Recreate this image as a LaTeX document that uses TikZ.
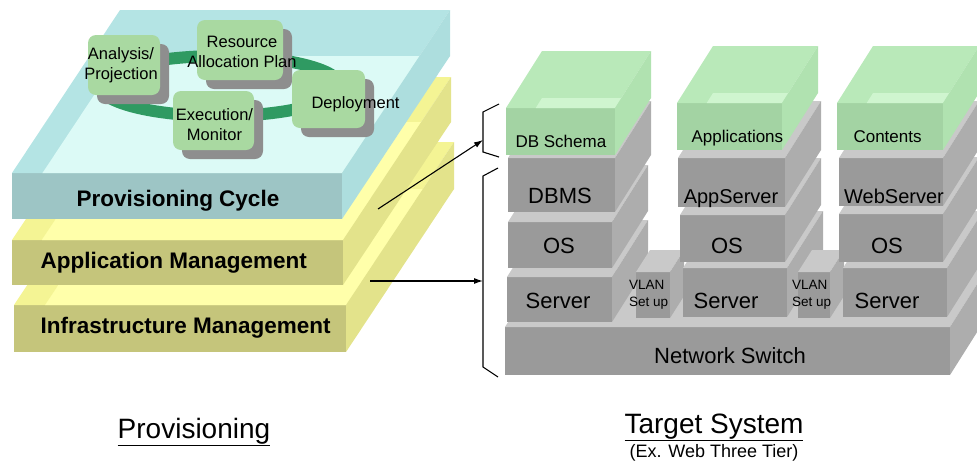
\documentclass[tikz,border=0pt]{standalone}
\usepackage{fontspec}
\setmainfont{Liberation Sans}
\usetikzlibrary{arrows.meta, calc, shadows}
\definecolor{provfront}{HTML}{9DC5C5}
\definecolor{provside}{HTML}{ADDEDE}
\definecolor{provtop}{HTML}{B4E4E4}
\definecolor{provinner}{HTML}{DCFAF6}
\definecolor{mgmtfront}{HTML}{C5C57B}
\definecolor{mgmtside}{HTML}{E3E38B}
\definecolor{mgmttop}{HTML}{F4F494}
\definecolor{mgmtinner}{HTML}{FFFFAA}
\definecolor{tierfront}{HTML}{A3D3A3}
\definecolor{tierside}{HTML}{B0E2B0}
\definecolor{tiertop}{HTML}{B9E9B9}
\definecolor{tierinner}{HTML}{CFF5CF}
\definecolor{hwfront}{HTML}{9A9A9A}
\definecolor{hwside}{HTML}{ADADAD}
\definecolor{hwtop}{HTML}{C9C9C9}
\definecolor{cyclering}{HTML}{2F9A62}
\definecolor{cyclefill}{HTML}{A9D9A1}
\definecolor{cycleshadow}{HTML}{8E8E8E}

% top and side of a block whose front face is a node
\newcommand{\solidprism}[4]{%
  \fill[#4top] (#1.north west) -- ++(#2,-#3) -- ($(#1.north east)+(#2,-#3)$) -- (#1.north east) -- cycle;
  \fill[#4side] (#1.north east) -- ++(#2,-#3) -- ($(#1.south east)+(#2,-#3)$) -- (#1.south east) -- cycle;
}
% same, open at the top (tray)
\newcommand{\openprism}[4]{%
  \coordinate (#1bl) at ($(#1.south west)+(#2,-#3)$);
  \coordinate (#1br) at ($(#1.south east)+(#2,-#3)$);
  \fill[#4top] (#1.north west) -- ++(#2,-#3) -- ($(#1.north east)+(#2,-#3)$) -- (#1.north east) -- cycle;
  \fill[#4inner] (intersection of #1.south west--#1bl and #1.north west--#1.north east) -- (#1.north east) -- (#1br) -- (#1bl) -- cycle;
  \fill[#4side] (#1.north east) -- ++(#2,-#3) -- ($(#1.south east)+(#2,-#3)$) -- (#1.south east) -- cycle;
}

\begin{document}
\begin{tikzpicture}[x=1pt, y=-1pt,
    face/.style 2 args={anchor=north west, inner sep=0pt, outer sep=0pt,
                        minimum width=#1pt, minimum height=#2pt},
    cyclebox/.style 2 args={rounded corners=8pt, fill=cyclefill, inner sep=0pt,
                        minimum width=#1pt, minimum height=#2pt,
                        general shadow={fill=cycleshadow, shadow xshift=9pt, shadow yshift=-9pt}},
    cycletext/.style={align=center, font=\fontsize{16.5}{20}\selectfont},
    layertext/.style={anchor=base west, font=\fontsize{22.5}{26}\selectfont\bfseries},
    tiertext/.style={anchor=base west, font=\fontsize{17}{20}\selectfont},
    hwtext/.style={anchor=base, font=\fontsize{22}{26}\selectfont},
    vlantext/.style={anchor=north west, inner sep=0pt, align=left, font=\fontsize{13.5}{17}\selectfont},
    caption/.style={anchor=base, font=\fontsize{28}{32}\selectfont},
    arrow/.style={-{Latex[length=9pt, width=6pt]}, line width=1.1pt},
    brace/.style={line width=1.1pt},
  ]
  \path[use as bounding box] (0,0) rectangle (977,464);
  \clip (0,0) rectangle (977,464);

  % Provisioning layers
  \node[face={332}{47}, fill=mgmtfront] (infra) at (14,305) {};
  \openprism{infra}{108}{163}{mgmt}
  \node[face={331}{45}, fill=mgmtfront] (appmgmt) at (12,240) {};
  \openprism{appmgmt}{108}{163}{mgmt}
  \node[face={330}{46}, fill=provfront] (cycle) at (12,173) {};
  \openprism{cycle}{108}{163}{prov}

  % Provisioning cycle
  \draw[cyclering, line width=12pt] (220,86) ellipse [x radius=120, y radius=30];
  \node[cyclebox={72}{60}] (analysis) at (124,65) {};
  \node[cyclebox={86}{60}] (resource) at (240,50) {};
  \node[cyclebox={81}{59}] (execution) at (213.5,120.5) {};
  \node[cyclebox={73}{58}] (deploy) at (328.5,99) {};
  \node[cycletext] (analysistext) at ([xshift=-3pt]analysis.center) {Analysis/\\Projection};
  \node[cycletext] (resourcetext) at ([xshift=2pt, yshift=-2pt]resource.center) {Resource\\Allocation Plan};
  \node[cycletext] (executiontext) at ([xshift=1pt, yshift=-4pt]execution.center) {Execution/\\Monitor};
  \node[cycletext, anchor=west] (deploytext) at (308,104) {Deployment};

  \node[layertext, anchor=base] (cycletitle) at (178,206) {Provisioning Cycle};
  \node[layertext] (appmgmttitle) at (37,268) {Application Management};
  \node[layertext] (infratitle) at (37,333) {Infrastructure Management};

  % Target system
  \node[face={445}{48}, fill=hwfront] (switch) at (505,327) {};
  \solidprism{switch}{36}{57}{hw}

  \node[face={105}{45}, fill=hwfront] (serverA) at (507,277) {};
  \solidprism{serverA}{36}{57}{hw}
  \node[face={104}{46}, fill=hwfront] (osA) at (508,222) {};
  \solidprism{osA}{36}{57}{hw}
  \node[face={107}{54}, fill=hwfront] (dbms) at (508,158) {};
  \solidprism{dbms}{36}{57}{hw}
  \node[face={109}{47}, fill=tierfront] (schema) at (506,108) {};
  \openprism{schema}{36}{57}{tier}

  \node[face={34}{46}, fill=hwfront] (vlanA) at (636,272) {};
  \solidprism{vlanA}{14}{22}{hw}

  \node[face={104}{49}, fill=hwfront] (serverB) at (683,268) {};
  \solidprism{serverB}{36}{57}{hw}
  \node[face={105}{47}, fill=hwfront] (osB) at (680,215) {};
  \solidprism{osB}{36}{57}{hw}
  \node[face={107}{49}, fill=hwfront] (appsrv) at (678,158) {};
  \solidprism{appsrv}{36}{57}{hw}
  \node[face={105}{47}, fill=tierfront] (apps) at (677,103) {};
  \openprism{apps}{36}{57}{tier}

  \node[face={32}{46}, fill=hwfront] (vlanB) at (798,272) {};
  \solidprism{vlanB}{14}{22}{hw}

  \node[face={104}{49}, fill=hwfront] (serverC) at (843,268) {};
  \solidprism{serverC}{36}{57}{hw}
  \node[face={104}{48}, fill=hwfront] (osC) at (839,214) {};
  \solidprism{osC}{36}{57}{hw}
  \node[face={104}{48}, fill=hwfront] (websrv) at (839,158) {};
  \solidprism{websrv}{36}{57}{hw}
  \node[face={106}{47}, fill=tierfront] (contents) at (837,103) {};
  \openprism{contents}{36}{57}{tier}

  \node[tiertext] (schematext) at (512,147) {DB Schema};
  \node[tiertext] (appstext) at (688,142) {Applications};
  \node[tiertext] (contentstext) at (850,142) {Contents};
  \node[hwtext] (dbmstext) at (560,203) {DBMS};
  \node[hwtext, font=\fontsize{20}{24}\selectfont] (appsrvtext) at (731,203) {AppServer};
  \node[hwtext, font=\fontsize{20}{24}\selectfont] (websrvtext) at (894,203) {WebServer};
  \node[hwtext] (osAtext) at (559,253) {OS};
  \node[hwtext] (osBtext) at (727,253) {OS};
  \node[hwtext] (osCtext) at (887,253) {OS};
  \node[hwtext] (serverAtext) at (558,308) {Server};
  \node[hwtext] (serverBtext) at (726,308) {Server};
  \node[hwtext] (serverCtext) at (887,308) {Server};
  \node[vlantext] (vlanAtext) at (629,280) {VLAN\\Set up};
  \node[vlantext] (vlanBtext) at (792,280) {VLAN\\Set up};
  \node[hwtext] (switchtext) at (730,363) {Network Switch};

  % braces and arrows
  \draw[brace] (499,104) -- (483,112) -- (483,152) -- (499,157);
  \draw[brace] (498,168) -- (483,176) -- (483,367) -- (498,377);
  \coordinate (provedge) at (378,209);
  \coordinate (mgmtedge) at (370,281);
  \coordinate (schematip) at (483,140);
  \coordinate (stacktip) at (483,281);
  \draw[arrow] (provedge) -- (schematip);
  \draw[arrow] (mgmtedge) -- (stacktip);

  % captions
  \node[caption] (provcap) at (194,438) {\underline{Provisioning}};
  \node[caption] (targetcap) at (714,433) {\underline{Target System}};
  \node[anchor=base, font=\fontsize{18}{20}\selectfont] (targetsub) at (714,457) {(Ex. Web Three Tier)};
\end{tikzpicture}
\end{document}
